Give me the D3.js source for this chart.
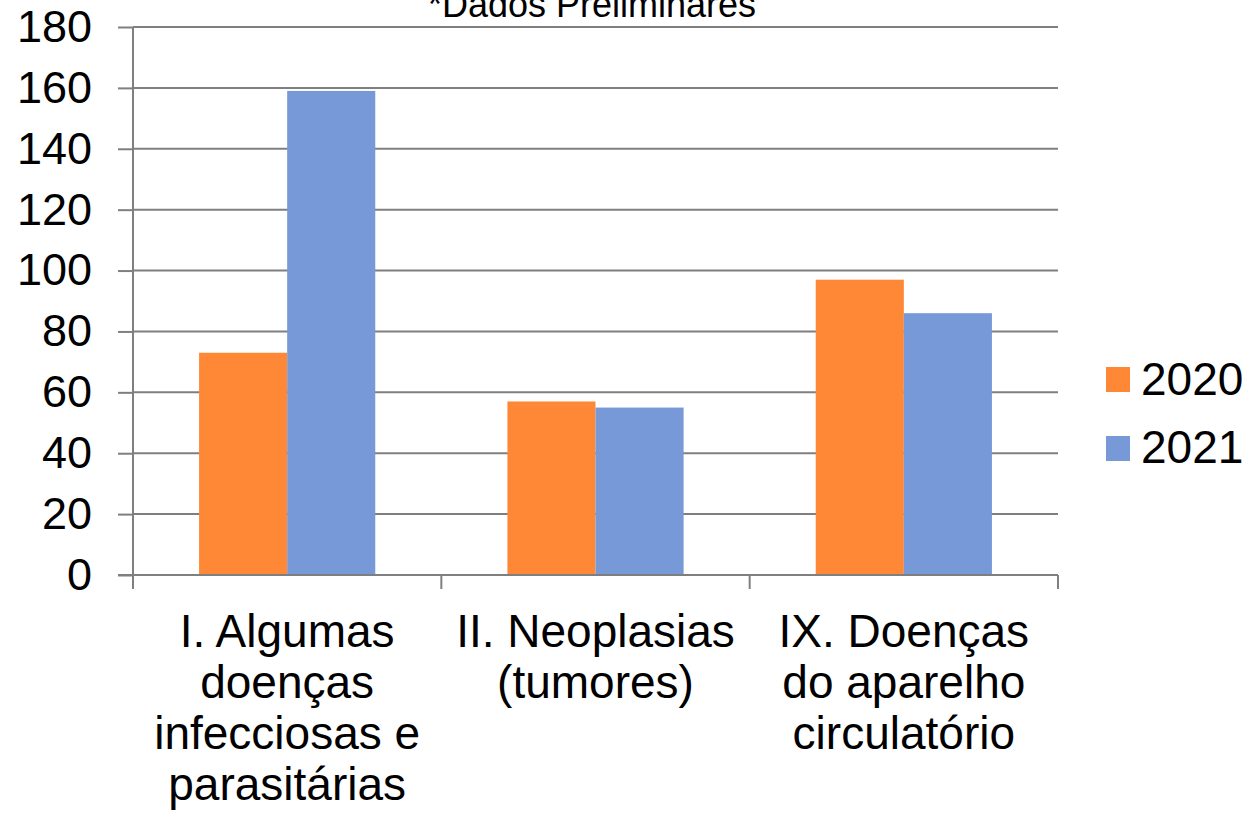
<!DOCTYPE html>
<html><head><meta charset="utf-8">
<script src="https://cdn.jsdelivr.net/npm/d3@7"></script>
<style>body{margin:0;background:#fff}svg{display:block}text{font-family:"Liberation Sans",Arial,sans-serif;fill:#000}</style>
</head><body><svg id="c" width="1252" height="822"></svg>
<script>
const categories = [["I. Algumas","doenças","infecciosas e","parasitárias"],["II. Neoplasias","(tumores)"],["IX. Doenças","do aparelho","circulatório"]];
const seriesNames = ["2020","2021"];
const values2020 = [73, 57, 97];
const values2021 = [159, 55, 86];
const yTicks = [0,20,40,60,80,100,120,140,160,180];
const colors = ["#FF8837","#7799D8"];
const title = "*Dados Preliminares";

const svg = d3.select("#c");
const L=133, R=1058, T=27, B=575;
const x = d3.scaleBand().domain(d3.range(categories.length)).range([L,R]).paddingInner(0).paddingOuter(0);
const y = d3.scaleLinear().domain([0,180]).range([B,T]);
const inner = d3.scaleBand().domain(seriesNames).range([0,x.bandwidth()]).paddingInner(0).paddingOuter(0.75);

// gridlines
svg.append("g").selectAll("line").data(yTicks.filter(d=>d>0)).join("line")
  .attr("x1",L).attr("x2",R).attr("y1",d=>y(d)).attr("y2",d=>y(d))
  .attr("stroke","#7f7f7f").attr("stroke-width",2);

// bars
const series=[values2020,values2021];
series.forEach((vals,si)=>{
  svg.append("g").selectAll("rect").data(vals).join("rect")
    .attr("x",(d,i)=>x(i)+inner(seriesNames[si]))
    .attr("width",inner.bandwidth())
    .attr("y",d=>y(d)).attr("height",d=>B-y(d))
    .attr("fill",colors[si]);
});

// y axis
const ya = svg.append("g").attr("transform",`translate(${L},0)`).call(d3.axisLeft(y).tickValues(yTicks).tickSize(15).tickPadding(26));
ya.select(".domain").attr("stroke","#7f7f7f").attr("stroke-width",2).attr("d",`M0,${T}V${B}`);
ya.selectAll(".tick line").attr("stroke","#7f7f7f").attr("stroke-width",2);
ya.selectAll(".tick text").attr("font-size",45).attr("font-family","Liberation Sans, Arial, sans-serif").attr("fill","#000");

// x axis
svg.append("line").attr("x1",L-15).attr("x2",R).attr("y1",B).attr("y2",B).attr("stroke","#7f7f7f").attr("stroke-width",2);
const bounds=d3.range(categories.length+1).map(i=>i<categories.length?x(i):R);
svg.append("g").selectAll("line").data(bounds).join("line")
  .attr("x1",d=>d).attr("x2",d=>d).attr("y1",B).attr("y2",B+14)
  .attr("stroke","#7f7f7f").attr("stroke-width",2);
categories.forEach((lines,i)=>{
  const t=svg.append("text").attr("text-anchor","middle").attr("font-size",46);
  lines.forEach((ln,j)=>t.append("tspan").attr("x",x(i)+x.bandwidth()/2).attr("y",647+j*51).text(ln));
});

// title
svg.append("text").attr("x",592).attr("y",17).attr("text-anchor","middle").attr("font-size",36).text(title);

// legend
seriesNames.forEach((s,i)=>{
  svg.append("rect").attr("x",1106).attr("y",367+i*69).attr("width",24).attr("height",25).attr("fill",colors[i]);
  svg.append("text").attr("x",1141).attr("y",395+i*68).attr("font-size",46).text(s);
});
</script></body></html>
